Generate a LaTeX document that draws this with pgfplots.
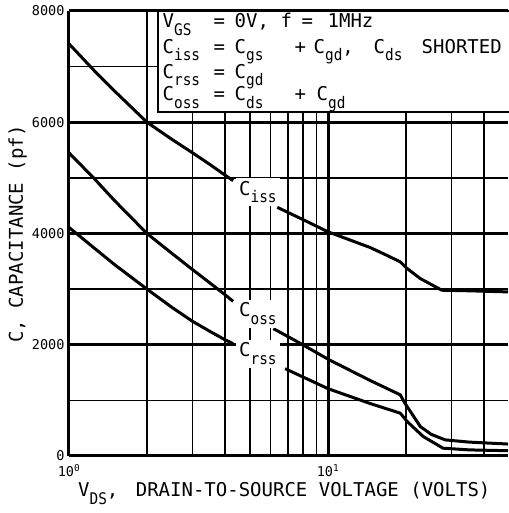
\documentclass[border=0pt]{standalone}
\usepackage{pgfplots}
\pgfplotsset{compat=1.18}
\usepackage{graphicx}
\usepackage{fontspec}
\setmainfont{DejaVu Sans Mono}
\usetikzlibrary{calc}
\newcommand{\sub}[1]{\raisebox{-7.5pt}{\scalebox{0.9}[1]{\fontsize{16}{16}\selectfont #1}}}
\newcommand{\at}[2]{\rlap{\hspace{#1pt}#2}}
\newcommand{\bigf}{\fontsize{19}{19}\selectfont}

\begin{document}
\begin{tikzpicture}
\begin{axis}[
  name=ax,
  width=439pt, height=445pt, scale only axis,
  xmode=log, xmin=1, xmax=49.5, ymin=0, ymax=8000,
  axis lines=left, axis line style={-, line width=3pt},
  xtick={1,10}, xticklabels={10\textsuperscript{0},10\textsuperscript{1}},
  minor xtick={2,3,4,5,6,7,8,9,20,30,40},
  ytick={0,2000,4000,6000,8000},
  yticklabels={0,2000,4000,6000,\raisebox{-4pt}{8000}},
  minor ytick={1000,3000,5000,7000},
  scaled y ticks=false,
  grid=both,
  major grid style={black, line width=3pt},
  minor grid style={black, line width=1.3pt},
  major tick length=0pt, minor tick length=0pt,
  /pgf/number format/assume math mode=true,
  yticklabel style={font=\fontsize{13.5}{13.5}\selectfont, xshift=-1pt},
  xticklabel style={font=\fontsize{13.5}{13.5}\selectfont, yshift=-5pt},
  clip=false,
]
% C_iss
\addplot[black, line width=3pt] coordinates {(1,7410) (1.25,6930) (1.5,6560) (2,6000) (2.5,5690) (3,5450) (3.5,5240) (4,5050) (4.3,4950)};
\addplot[black, line width=3pt] coordinates {(6.37,4470) (8,4250) (10,4030) (14.5,3750) (17,3600) (19,3490) (20.2,3370) (22.7,3190) (27.5,2980) (35,2970) (49.5,2950)};
% C_oss
\addplot[black, line width=3pt] coordinates {(1,5450) (1.25,4990) (1.5,4590) (2,4000) (2.5,3640) (3,3350) (3.5,3110) (4,2900) (4.3,2780)};
\addplot[black, line width=3pt] coordinates {(6.15,2290) (7.85,2020) (10,1740) (14.5,1360) (19,1100) (19.8,950) (22.7,530) (25,390) (28.3,290) (35,250) (49.5,215)};
% C_rss
\addplot[black, line width=3pt] coordinates {(1,4110) (1.25,3740) (1.5,3440) (2,3000) (2.5,2670) (3,2420) (3.5,2240) (4,2090) (4.3,2020)};
\addplot[black, line width=3pt] coordinates {(6.83,1570) (10,1210) (14.5,945) (19,770) (20.2,620) (23.3,350) (27.8,140) (35,110) (49.5,95)};

% curve labels
\node[fill=white, anchor=base west, inner xsep=3pt, inner ysep=3pt, font=\bigf] at (rel axis cs:0.3804,0.5865) {C\sub{iss}};
\node[fill=white, anchor=base west, inner xsep=3pt, inner ysep=3pt, font=\bigf] at (rel axis cs:0.3804,0.3124) {C\sub{oss}};
\node[fill=white, anchor=base west, inner xsep=3pt, inner ysep=3pt, font=\bigf] at (rel axis cs:0.3804,0.2225) {C\sub{rss}};

% legend box
\draw[line width=2.5pt, fill=white] (rel axis cs:0.2027,0.773) rectangle (rel axis cs:1.05,1);
\node[anchor=base west, inner sep=0pt, font=\bigf] at (rel axis cs:0.2118,0.9618)
  {\at{0}{V\sub{GS}}\at{51}{=}\at{72}{0V,}\at{118}{f}\at{139}{=}\at{165}{1MHz}};
\node[anchor=base west, inner sep=0pt, font=\bigf] at (rel axis cs:0.2118,0.9056)
  {\at{0}{C\sub{iss}}\at{51}{=}\at{72}{C\sub{gs}}\at{132}{+}\at{151}{C\sub{gd},}\at{211}{C\sub{ds}}\at{259}{SHORTED}};
\node[anchor=base west, inner sep=0pt, font=\bigf] at (rel axis cs:0.2118,0.8494)
  {\at{0}{C\sub{rss}}\at{51}{=}\at{72}{C\sub{gd}}};
\node[anchor=base west, inner sep=0pt, font=\bigf] at (rel axis cs:0.2118,0.7978)
  {\at{0}{C\sub{oss}}\at{51}{=}\at{72}{C\sub{ds}}\at{132}{+}\at{154}{C\sub{gd}}};

% axis labels
\node[anchor=base west, inner sep=0pt, font=\bigf] at (rel axis cs:0.0205,-0.0921)
  {V\sub{DS},\hspace{6pt} DRAIN-TO-SOURCE VOLTAGE (VOLTS)};
\node[anchor=base west, inner sep=0pt, font=\bigf, rotate=90] at (rel axis cs:-0.1048,0.2539)
  {C, CAPACITANCE (pf)};
\end{axis}
\pgfresetboundingbox
\path ($(ax.south west)+(-69pt,-57pt)$) rectangle ($(ax.north east)+(0pt,11pt)$);
\end{tikzpicture}
\end{document}
